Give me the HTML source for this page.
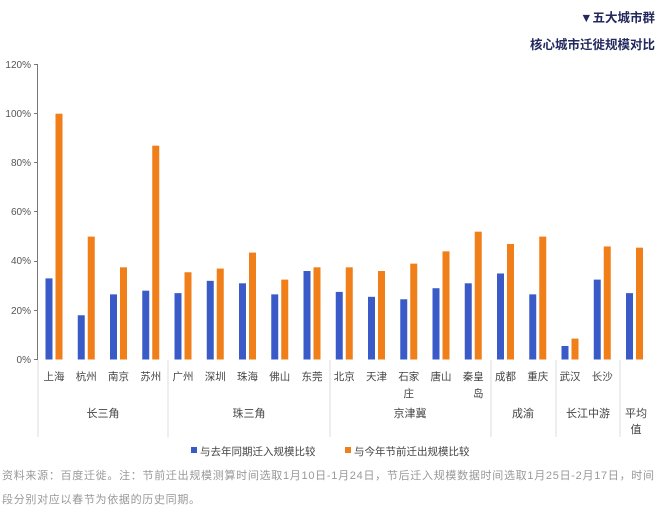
<!DOCTYPE html>
<html><head><meta charset="utf-8"><style>
body{margin:0;background:#fff;}
svg text{font-family:"Liberation Sans","Noto Sans CJK SC",sans-serif;}
</style></head><body>
<svg width="660" height="510" viewBox="0 0 660 510" xmlns="http://www.w3.org/2000/svg">
<rect width="660" height="510" fill="#fff"/>
<text x="655" y="22" text-anchor="end" font-size="12.5" font-weight="bold" fill="#23295e">▼五大城市群</text>
<text x="655" y="49" text-anchor="end" font-size="12.5" font-weight="bold" fill="#23295e">核心城市迁徙规模对比</text>
<g font-size="10" fill="#555" text-anchor="end">
<text x="31" y="68">120%</text><text x="31" y="117">100%</text><text x="31" y="166">80%</text>
<text x="31" y="215">60%</text><text x="31" y="264">40%</text><text x="31" y="314">20%</text><text x="31" y="363">0%</text>
</g>
<g stroke="#777" stroke-width="1">
<line x1="37.5" y1="64" x2="37.5" y2="360"/>
<line x1="34" y1="64.5" x2="37.5" y2="64.5"/><line x1="34" y1="113.5" x2="37.5" y2="113.5"/>
<line x1="34" y1="162.5" x2="37.5" y2="162.5"/><line x1="34" y1="211.5" x2="37.5" y2="211.5"/>
<line x1="34" y1="261.5" x2="37.5" y2="261.5"/><line x1="34" y1="310.5" x2="37.5" y2="310.5"/>
<line x1="34" y1="359.5" x2="37.5" y2="359.5"/>
</g>
<g stroke="#ddd" stroke-width="1">
<line x1="38" y1="360" x2="38" y2="437"/><line x1="168" y1="360" x2="168" y2="437"/>
<line x1="330" y1="360" x2="330" y2="437"/><line x1="491" y1="360" x2="491" y2="437"/>
<line x1="556" y1="360" x2="556" y2="437"/><line x1="620" y1="360" x2="620" y2="437"/>
</g>
<g id="bars"></g>
<g font-size="10.5" fill="#444" text-anchor="middle" id="labels"></g>
<g font-size="11" fill="#444" text-anchor="middle">
<text x="103" y="417">长三角</text><text x="249" y="417">珠三角</text><text x="410" y="417">京津冀</text>
<text x="523" y="417">成渝</text><text x="588" y="417">长江中游</text>
<text x="636" y="417">平均</text><text x="636" y="433">值</text>
</g>
<rect x="191" y="447" width="6" height="6" fill="#3a5bc7"/>
<text x="200" y="455" font-size="10.5" fill="#444">与去年同期迁入规模比较</text>
<rect x="345" y="447" width="6" height="6" fill="#f07f1a"/>
<text x="354" y="455" font-size="10.5" fill="#444">与今年节前迁出规模比较</text>
<text x="2" y="479" font-size="11" fill="#999" textLength="652" lengthAdjust="spacing">资料来源：百度迁徙。注：节前迁出规模测算时间选取1月10日-1月24日，节后迁入规模数据时间选取1月25日-2月17日，时间</text>
<text x="2" y="503" font-size="11" fill="#999" textLength="198" lengthAdjust="spacing">段分别对应以春节为依据的历史同期。</text>
<script>
var d=[["上海",33,100],["杭州",18,50],["南京",26.5,37.5],["苏州",28,87],["广州",27,35.5],["深圳",32,37],["珠海",31,43.5],["佛山",26.5,32.5],["东莞",36,37.5],["北京",27.5,37.5],["天津",25.5,36],["石家|庄",24.5,39],["唐山",29,44],["秦皇|岛",31,52],["成都",35,47],["重庆",26.5,50],["武汉",5.5,8.5],["长沙",32.5,46],["",27,45.5]];
var ns="http://www.w3.org/2000/svg",b=document.getElementById("bars"),l=document.getElementById("labels");
d.forEach(function(r,i){var c=54+i*32.25;
function rc(x,v,col){var e=document.createElementNS(ns,"rect");var h=v*2.458;e.setAttribute("x",x);e.setAttribute("y",359.5-h);e.setAttribute("width",7);e.setAttribute("height",h);e.setAttribute("fill",col);b.appendChild(e);}
rc(c-8.5,r[1],"#3a5bc7");rc(c+1.5,r[2],"#f07f1a");
r[0].split("|").forEach(function(s,j){var t=document.createElementNS(ns,"text");t.setAttribute("x",j?c+(i==13?5:0):c);t.setAttribute("y",380+j*17);t.textContent=s;l.appendChild(t);});
});
</script>
</svg>
</body></html>
